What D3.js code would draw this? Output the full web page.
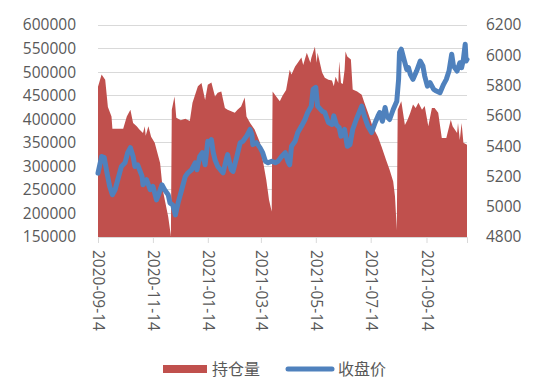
<!DOCTYPE html>
<html><head><meta charset="utf-8">
<script src="https://cdn.jsdelivr.net/npm/d3@7"></script>
<style>body{margin:0;background:#fff}svg{display:block}</style>
</head><body>
<script>
// ---- data ----
const areaDates = ["2020-09-14","2020-09-18","2020-09-22","2020-09-25","2020-09-29","2020-09-30","2020-10-12","2020-10-16","2020-10-20","2020-10-23","2020-10-27","2020-10-30","2020-11-03","2020-11-05","2020-11-06","2020-11-09","2020-11-12","2020-11-16","2020-11-22","2020-11-25","2020-12-01","2020-12-04",
"2020-12-05","2020-12-08","2020-12-10","2020-12-15","2020-12-20","2020-12-25","2020-12-28","2021-01-03","2021-01-07","2021-01-11","2021-01-14","2021-01-18","2021-01-22","2021-01-25","2021-01-29","2021-02-02","2021-02-05","2021-02-09","2021-02-13","2021-02-16","2021-02-20","2021-02-24","2021-02-26","2021-03-02","2021-03-07","2021-03-13","2021-03-16","2021-03-20","2021-03-23","2021-03-26",
"2021-03-27","2021-03-31","2021-04-04","2021-04-07","2021-04-11","2021-04-15","2021-04-17","2021-04-21","2021-04-24","2021-04-28","2021-04-30","2021-05-04","2021-05-08","2021-05-09","2021-05-13","2021-05-15","2021-05-16","2021-05-21","2021-05-24","2021-05-28","2021-06-01","2021-06-03","2021-06-05","2021-06-08","2021-06-09","2021-06-11","2021-06-13","2021-06-15","2021-06-16","2021-06-18","2021-06-22","2021-06-24","2021-06-29","2021-07-04","2021-07-07","2021-07-11","2021-07-16","2021-07-22","2021-07-26","2021-07-31","2021-08-04","2021-08-08","2021-08-10","2021-08-12",
"2021-08-13","2021-08-17","2021-08-21","2021-08-24","2021-08-27","2021-08-30","2021-09-02","2021-09-05","2021-09-09","2021-09-12","2021-09-16","2021-09-20","2021-09-23","2021-09-27","2021-10-01","2021-10-06","2021-10-11","2021-10-13","2021-10-18","2021-10-19","2021-10-21","2021-10-23","2021-10-25","2021-10-29"];
const holdings = [469000,495000,484000,426000,406000,380000,380000,406000,420000,392000,385000,378000,371000,385000,365000,385000,363000,350000,307000,250000,193000,152000,
420000,448000,403000,398000,401000,396000,435000,470000,477000,441000,473000,478000,448000,456000,459000,424000,420000,417000,414000,420000,427000,446000,406000,392000,378000,350000,314000,271000,229000,204000,
459000,448000,438000,450000,462000,505000,495000,512000,520000,531000,515000,541000,520000,530000,554000,520000,541000,499000,488000,484000,482000,470000,490000,477000,523000,477000,475000,505000,544000,533000,527000,463000,459000,452000,435000,414000,385000,363000,342000,314000,293000,268000,236000,165000,
420000,438000,388000,399000,414000,431000,424000,435000,420000,428000,385000,424000,424000,414000,360000,360000,399000,385000,371000,392000,356000,392000,350000,346000];

const lineDates = ["2020-09-14","2020-09-18","2020-09-21","2020-09-24","2020-09-27","2020-09-30","2020-10-03","2020-10-06","2020-10-10","2020-10-14","2020-10-17","2020-10-20","2020-10-23","2020-10-25","2020-10-28","2020-11-02","2020-11-03","2020-11-07","2020-11-11","2020-11-14","2020-11-18","2020-11-21","2020-11-24","2020-11-27","2020-12-01","2020-12-03","2020-12-06","2020-12-09","2020-12-12","2020-12-16","2020-12-20","2020-12-23","2020-12-27","2020-12-31","2021-01-02","2021-01-05","2021-01-08","2021-01-11","2021-01-14","2021-01-16","2021-01-18","2021-01-20","2021-01-22","2021-01-25","2021-01-28","2021-01-31","2021-02-04","2021-02-05","2021-02-09","2021-02-11","2021-02-15","2021-02-19","2021-02-22","2021-02-26","2021-03-02","2021-03-04","2021-03-05","2021-03-09","2021-03-13","2021-03-16","2021-03-19","2021-03-22","2021-03-26","2021-03-30","2021-04-02","2021-04-06","2021-04-10","2021-04-13","2021-04-15","2021-04-17","2021-04-21","2021-04-24","2021-04-28","2021-05-02","2021-05-05","2021-05-09","2021-05-11","2021-05-14","2021-05-16","2021-05-21","2021-05-24","2021-05-28","2021-06-01","2021-06-03","2021-06-06","2021-06-09","2021-06-11","2021-06-15","2021-06-18","2021-06-21","2021-06-24","2021-06-28","2021-07-04","2021-07-07","2021-07-11","2021-07-15","2021-07-19","2021-07-22","2021-07-24","2021-07-27","2021-07-30","2021-08-01","2021-08-04","2021-08-08","2021-08-12","2021-08-14","2021-08-15","2021-08-17","2021-08-20","2021-08-23","2021-08-25","2021-08-27","2021-08-30","2021-09-03","2021-09-07","2021-09-10","2021-09-12","2021-09-15","2021-09-18","2021-09-22","2021-09-25","2021-09-29","2021-10-03","2021-10-06","2021-10-09","2021-10-12","2021-10-14","2021-10-18","2021-10-21","2021-10-23","2021-10-25","2021-10-27","2021-10-28","2021-10-29"];
const closes = [5222,5332,5324,5222,5134,5079,5112,5178,5266,5290,5357,5390,5332,5266,5277,5200,5145,5178,5112,5134,5045,5092,5145,5112,5079,5025,5012,4946,5025,5112,5200,5224,5244,5290,5244,5332,5357,5277,5432,5423,5443,5360,5310,5266,5244,5224,5324,5344,5244,5233,5324,5423,5432,5465,5510,5476,5410,5423,5390,5357,5300,5290,5300,5290,5300,5332,5357,5300,5277,5399,5432,5490,5531,5576,5622,5664,5775,5788,5664,5631,5622,5556,5543,5600,5540,5523,5465,5510,5399,5410,5510,5576,5664,5598,5531,5490,5556,5598,5622,5564,5655,5598,5576,5642,5697,5841,6018,6040,5973,5907,5918,5874,5841,5896,5962,5929,5863,5796,5819,5775,5764,5753,5808,5841,5896,6007,5929,5896,5951,5918,5973,6073,5962,5973];

const leftTicks = [150000,200000,250000,300000,350000,400000,450000,500000,550000,600000];
const rightTicks = [4800,5000,5200,5400,5600,5800,6000,6200];
const xTickLabels = ["2020-09-14","2020-11-14","2021-01-14","2021-03-14","2021-05-14","2021-07-14","2021-09-14"];
const seriesNames = ["持仓量","收盘价"];
const domainDates = ["2020-09-14","2021-10-29"];

// ---- chart ----
const W = 550, H = 392;
const parse = d3.timeParse("%Y-%m-%d");
const mLeft = 98, mRight = 467, mTop = 25, mBottom = 237;
const red = "#C0504D", blue = "#4F81BD", txt = "#595959";

const svg = d3.select("body").append("svg").attr("width", W).attr("height", H);

const x = d3.scaleTime().domain(domainDates.map(parse)).range([mLeft, mRight]);
const yL = d3.scaleLinear().domain([150000, 600000]).range([mBottom, mTop]);
const yR = d3.scaleLinear().domain([4800, 6200]).range([mBottom, mTop]);

// gridlines
svg.append("g").selectAll("line").data(leftTicks.slice(1)).join("line")
  .attr("x1", mLeft).attr("x2", mRight)
  .attr("y1", d => yL(d)).attr("y2", d => yL(d))
  .attr("stroke", "#d9d9d9").attr("stroke-width", 1).attr("shape-rendering", "crispEdges");

// area
const areaData = areaDates.map((d, i) => ({ date: parse(d), v: holdings[i] }));
svg.append("path").datum(areaData)
  .attr("fill", red)
  .attr("d", d3.area().x(d => x(d.date)).y0(mBottom).y1(d => yL(d.v)));

// x axis
const xAxis = d3.axisBottom(x).tickValues(xTickLabels.map(parse)).tickSize(6).tickFormat(d3.timeFormat("%Y-%m-%d"));
const gx = svg.append("g").attr("transform", `translate(0,${mBottom})`).call(xAxis);
gx.select(".domain").attr("stroke", "#d9d9d9");
gx.selectAll(".tick line").attr("stroke", "#d9d9d9");
gx.selectAll(".tick text")
  .attr("font-family", "'Open Sans', sans-serif").attr("font-size", 15.5).attr("fill", txt)
  .attr("text-anchor", "start")
  .attr("transform", "translate(0,13) rotate(90)")
  .attr("x", 0).attr("y", 0).attr("dy", "0.35em");

// line
const lineData = lineDates.map((d, i) => ({ date: parse(d), v: closes[i] }));
svg.append("path").datum(lineData)
  .attr("fill", "none").attr("stroke", blue).attr("stroke-width", 5)
  .attr("stroke-linejoin", "round").attr("stroke-linecap", "round")
  .attr("d", d3.line().x(d => x(d.date)).y(d => yR(d.v)));

// left axis
const gl = svg.append("g").attr("transform", `translate(${mLeft},0)`)
  .call(d3.axisLeft(yL).tickValues(leftTicks).tickSize(0).tickPadding(22).tickFormat(d3.format("d")));
gl.select(".domain").remove();
gl.selectAll("text").attr("font-family", "'Open Sans', sans-serif").attr("font-size", 15.5).attr("fill", txt);

// right axis
const gr = svg.append("g").attr("transform", `translate(${mRight},0)`)
  .call(d3.axisRight(yR).tickValues(rightTicks).tickSize(0).tickPadding(19).tickFormat(d3.format("d")));
gr.select(".domain").remove();
gr.selectAll("text").attr("font-family", "'Open Sans', sans-serif").attr("font-size", 15.5).attr("fill", txt);

// legend
const lg = svg.append("g");
lg.append("rect").attr("x", 163).attr("y", 365).attr("width", 44).attr("height", 8).attr("fill", red);
lg.append("text").attr("x", 212).attr("y", 369).attr("dy", "0.36em")
  .attr("font-family", "'Noto Sans CJK SC', sans-serif").attr("font-size", 16).attr("fill", txt).text(seriesNames[0]);
lg.append("line").attr("x1", 288).attr("x2", 332).attr("y1", 369).attr("y2", 369)
  .attr("stroke", blue).attr("stroke-width", 5).attr("stroke-linecap", "round");
lg.append("text").attr("x", 338).attr("y", 369).attr("dy", "0.36em")
  .attr("font-family", "'Noto Sans CJK SC', sans-serif").attr("font-size", 16).attr("fill", txt).text(seriesNames[1]);
</script>
</body></html>
